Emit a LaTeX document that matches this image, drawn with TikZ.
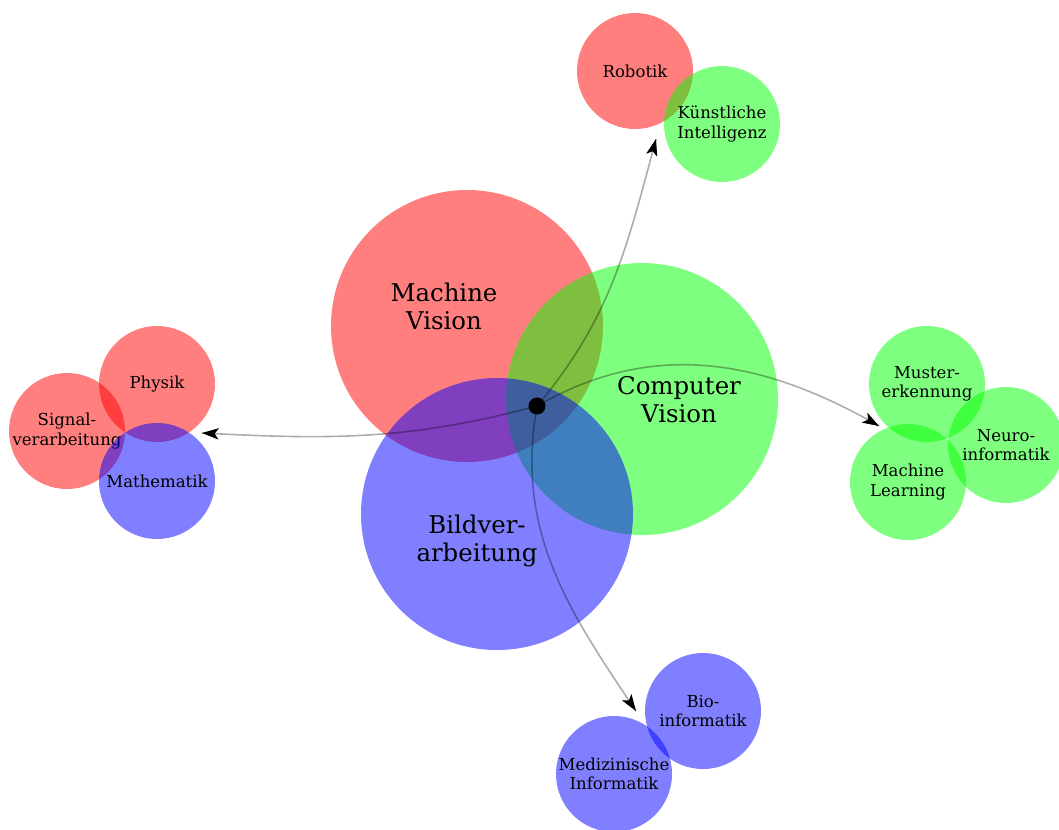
\documentclass[tikz,border=0pt]{standalone}
\usepackage{fontspec}
\setmainfont{DejaVu Serif}
\usetikzlibrary{arrows.meta, calc}

\tikzset{
	field/.style = {circle, inner sep = 0pt, fill opacity = 0.5, text opacity = 1, align = center},
	bigfield/.style = {field, minimum size = 204pt},
	smallfield/.style = {field, minimum size = 87pt, font = \fontsize{12.4}{14.6}\selectfont},
	bigtext/.style = {align = center, font = \fontsize{18.3}{21}\selectfont},
	link/.style = {line width = 1.2pt, draw opacity = 0.32},
	linktip/.style = {-{Stealth[length=12.5pt, width=8.5pt, inset=3pt]}, line width = 0.6pt},
}

\begin{document}
\begin{tikzpicture}[x = 0.75pt, y = 0.75pt]
		\useasboundingbox (0, 0) rectangle (1059, -829);
		
		\node [smallfield, fill = red] (rob) at (635, -71) {Robotik};
		\node [smallfield, fill = green] (ki) at (722, -124) {Künstliche\\Intelligenz};
		
		\node [smallfield, fill = red] (phy) at (157, -384) {Physik};
		\node [smallfield, fill = red] (sig) at (67, -431) {Signal-\\verarbeitung};
		\node [smallfield, fill = blue] (mat) at (157, -481) {Mathematik};
		
		\node [smallfield, fill = green] (mus) at (927, -384) {Muster-\\erkennung};
		\node [smallfield, fill = green] (neu) at (1006, -445) {Neuro-\\informatik};
		\node [smallfield, fill = green] (ml) at (908, -482) {Machine\\Learning};
		
		\node [smallfield, fill = blue] (bio) at (703, -711) {Bio-\\informatik};
		\node [smallfield, fill = blue] (med) at (614, -774) {Medizinische\\Informatik};
		
		\node [bigfield, fill = red] (mv) at (467, -326) {};
		\node [bigtext] at ($(mv) + (-23, 20)$) {Machine\\Vision};
		\node [bigfield, fill = green] (cv) at (642, -399) {};
		\node [bigtext] at ($(cv) + (37, -1)$) {Computer\\Vision};
		\node [bigfield, fill = blue] (bv) at (497, -514) {};
		\node [bigtext] at ($(bv) + (-20, -27)$) {Bildver-\\arbeitung};
		
		\coordinate (hubpos) at (537, -406);
		\coordinate (upend) at (656, -139);
		\coordinate (rightend) at (879, -426);
		\coordinate (leftend) at (202, -433);
		\coordinate (downend) at (636, -711);
		
		\begin{scope}[link]
			\draw (hubpos) to [out = 50, in = -105] (upend);
			\draw (hubpos) to [out = 30, in = 150] (rightend);
			\draw (hubpos) to [out = 195, in = -3] (leftend);
			\draw (hubpos) to [out = -100, in = 124] (downend);
		\end{scope}
		
		\begin{scope}[linktip]
			\draw ($(upend) + (-105:12)$) -- (upend);
			\draw ($(rightend) + (150:12)$) -- (rightend);
			\draw ($(leftend) + (-3:12)$) -- (leftend);
			\draw ($(downend) + (124:12)$) -- (downend);
		\end{scope}
		
		\node [circle, fill, inner sep = 0pt, minimum size = 12.8pt] (hub) at (hubpos) {};
	\end{tikzpicture}
\end{document}
